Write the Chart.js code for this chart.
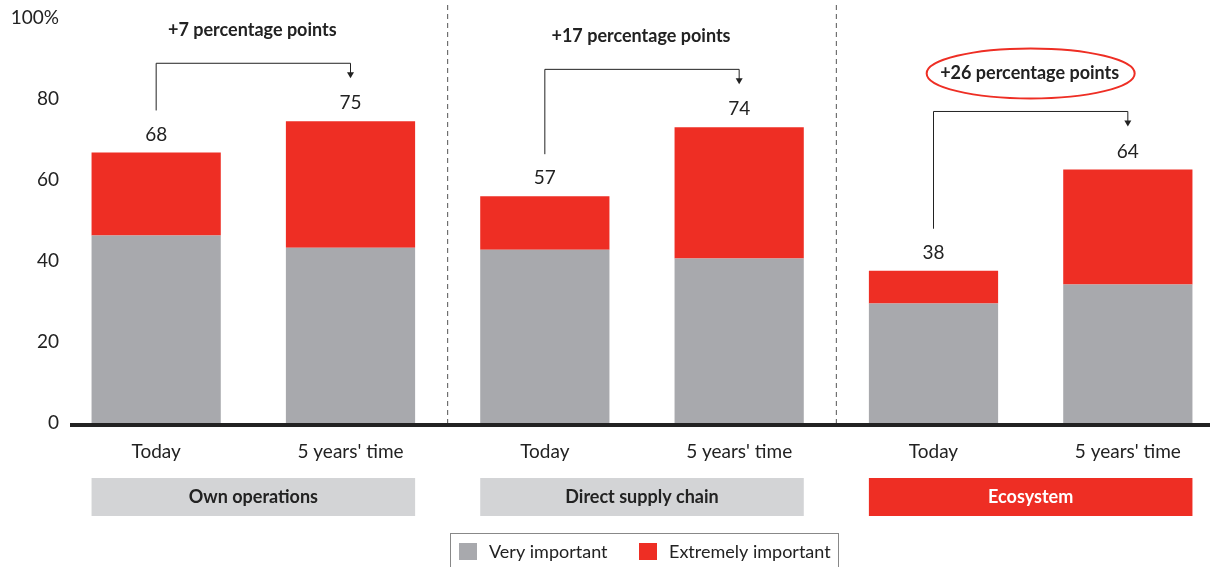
<!DOCTYPE html>
<html lang="en">
<head>
    <meta charset="UTF-8">
    <title>Importance today vs in 5 years</title>
    <script src="https://cdn.jsdelivr.net/npm/chart.js"></script>
    <style>
        html, body { margin: 0; padding: 0; background: #fff; overflow: hidden; }
        #wrap { position: relative; width: 1230px; height: 567px; }
    </style>
</head>
<body>
    <div id="wrap"><canvas id="importanceChart"></canvas></div>

    <script>
        // data
        var categories = ['Today', "5 years' time", 'Today', "5 years' time", 'Today', "5 years' time"];
        var groups = ['Own operations', 'Direct supply chain', 'Ecosystem'];
        var veryImportant = [46.3, 43.3, 42.8, 40.6, 29.5, 34.2];
        var extremelyImportant = [20.5, 31.2, 13.2, 32.4, 8.1, 28.4];
        var totals = [68, 75, 57, 74, 38, 64];
        var changes = ['+7 percentage points', '+17 percentage points', '+26 percentage points'];
        var yTicks = [0, 20, 40, 60, 80, 100];

        var GRAY = '#a8a9ad';
        var RED = '#ee2e24';
        var FONT = 'Lato, "DejaVu Sans", sans-serif';

        var overlay = {
            id: 'overlay',
            beforeDatasetsDraw: function(chart) {
                var c = chart.ctx, x = chart.scales.x, area = chart.chartArea;
                c.save();
                c.strokeStyle = '#555';
                c.lineWidth = 1;
                c.setLineDash([5, 4]);
                [1, 3].forEach(function(i) {
                    var sx = (x.getPixelForValue(i) + x.getPixelForValue(i + 1)) / 2;
                    c.beginPath();
                    c.moveTo(sx, 5);
                    c.lineTo(sx, area.bottom);
                    c.stroke();
                });
                c.restore();
            },
            afterDatasetsDraw: function(chart) {
                var c = chart.ctx, x = chart.scales.x, area = chart.chartArea;
                var meta0 = chart.getDatasetMeta(0);
                var meta1 = chart.getDatasetMeta(1);
                c.save();

                // thick baseline
                c.fillStyle = '#222';
                c.fillRect(70, area.bottom, 1140, 4);

                // totals above bars
                c.fillStyle = '#222';
                c.font = '19px ' + FONT;
                c.textAlign = 'center';
                c.textBaseline = 'middle';
                totals.forEach(function(t, i) {
                    c.fillText(String(t), x.getPixelForValue(i), meta1.data[i].y - 18);
                });

                // brackets with change labels
                for (var g = 0; g < 3; g++) {
                    var a = g * 2, b = g * 2 + 1;
                    var xa = x.getPixelForValue(a), xb = x.getPixelForValue(b);
                    var yTop = Math.min(meta1.data[a].y, meta1.data[b].y) - 58;
                    var yStart = meta1.data[a].y - 42;
                    c.strokeStyle = '#222';
                    c.lineWidth = 1;
                    c.beginPath();
                    c.moveTo(xa, yStart);
                    c.lineTo(xa, yTop);
                    c.lineTo(xb, yTop);
                    c.lineTo(xb, yTop + 10);
                    c.stroke();
                    c.fillStyle = '#222';
                    c.beginPath();
                    c.moveTo(xb - 3.5, yTop + 9);
                    c.lineTo(xb + 3.5, yTop + 9);
                    c.lineTo(xb, yTop + 15);
                    c.closePath();
                    c.fill();

                    var tx = (xa + xb) / 2 - 1, ty = yTop - (g === 2 ? 38 : 33);
                    c.font = 'bold 18px ' + FONT;
                    c.fillText(changes[g], tx, ty);
                    if (g === 2) {
                        c.strokeStyle = RED;
                        c.lineWidth = 2;
                        c.beginPath();
                        c.ellipse(tx + 1, ty, 104, 25, 0, 0, Math.PI * 2);
                        c.stroke();
                    }

                    // group boxes under the axis
                    var left = meta0.data[a].x - meta0.data[a].width / 2;
                    var right = meta0.data[b].x + meta0.data[b].width / 2;
                    c.fillStyle = g === 2 ? RED : '#d3d4d6';
                    c.fillRect(left, 478, right - left, 38);
                    c.fillStyle = g === 2 ? '#fff' : '#222';
                    c.font = 'bold 18px ' + FONT;
                    c.fillText(groups[g], (left + right) / 2, 497);
                }

                // legend box
                c.strokeStyle = '#888';
                c.lineWidth = 1;
                c.strokeRect(450.5, 533.5, 388, 40);
                c.textAlign = 'left';
                c.font = '18px ' + FONT;
                chart.data.datasets.forEach(function(ds, i) {
                    var lx = i === 0 ? 459 : 639;
                    c.fillStyle = ds.backgroundColor;
                    c.fillRect(lx, 543, 18, 17);
                    c.fillStyle = '#222';
                    c.fillText(ds.label, lx + 30, 552);
                });
                c.restore();
            }
        };

        var ctx = document.getElementById('importanceChart').getContext('2d');
        var chart = new Chart(ctx, {
            type: 'bar',
            data: {
                labels: categories,
                datasets: [{
                    label: 'Very important',
                    data: veryImportant,
                    backgroundColor: GRAY,
                    borderWidth: 0
                }, {
                    label: 'Extremely important',
                    data: extremelyImportant,
                    backgroundColor: RED,
                    borderWidth: 0
                }]
            },
            options: {
                responsive: true,
                maintainAspectRatio: false,
                animation: false,
                barPercentage: 0.665,
                categoryPercentage: 1,
                layout: { padding: { top: 18, right: 5, left: 0, bottom: 0 } },
                plugins: {
                    legend: { display: false },
                    tooltip: { enabled: false }
                },
                scales: {
                    x: {
                        stacked: true,
                        grid: { display: false, drawTicks: false },
                        border: { display: false },
                        ticks: { color: '#222', font: { family: FONT, size: 19 }, padding: 17, maxRotation: 0 },
                        afterFit: function(s) { s.height = 144; }
                    },
                    y: {
                        stacked: true,
                        min: 0,
                        max: 100,
                        afterBuildTicks: function(s) { s.ticks = yTicks.map(function(v) { return { value: v }; }); },
                        grid: { display: false, drawTicks: false },
                        border: { display: false },
                        ticks: {
                            color: '#222',
                            padding: 0,
                            font: { family: FONT, size: 19 },
                            callback: function(v) { return v === 100 ? '100%' : v; }
                        },
                        afterFit: function(s) { s.width = 59; }
                    }
                }
            },
            plugins: [overlay]
        });
    </script>
</body>
</html>
